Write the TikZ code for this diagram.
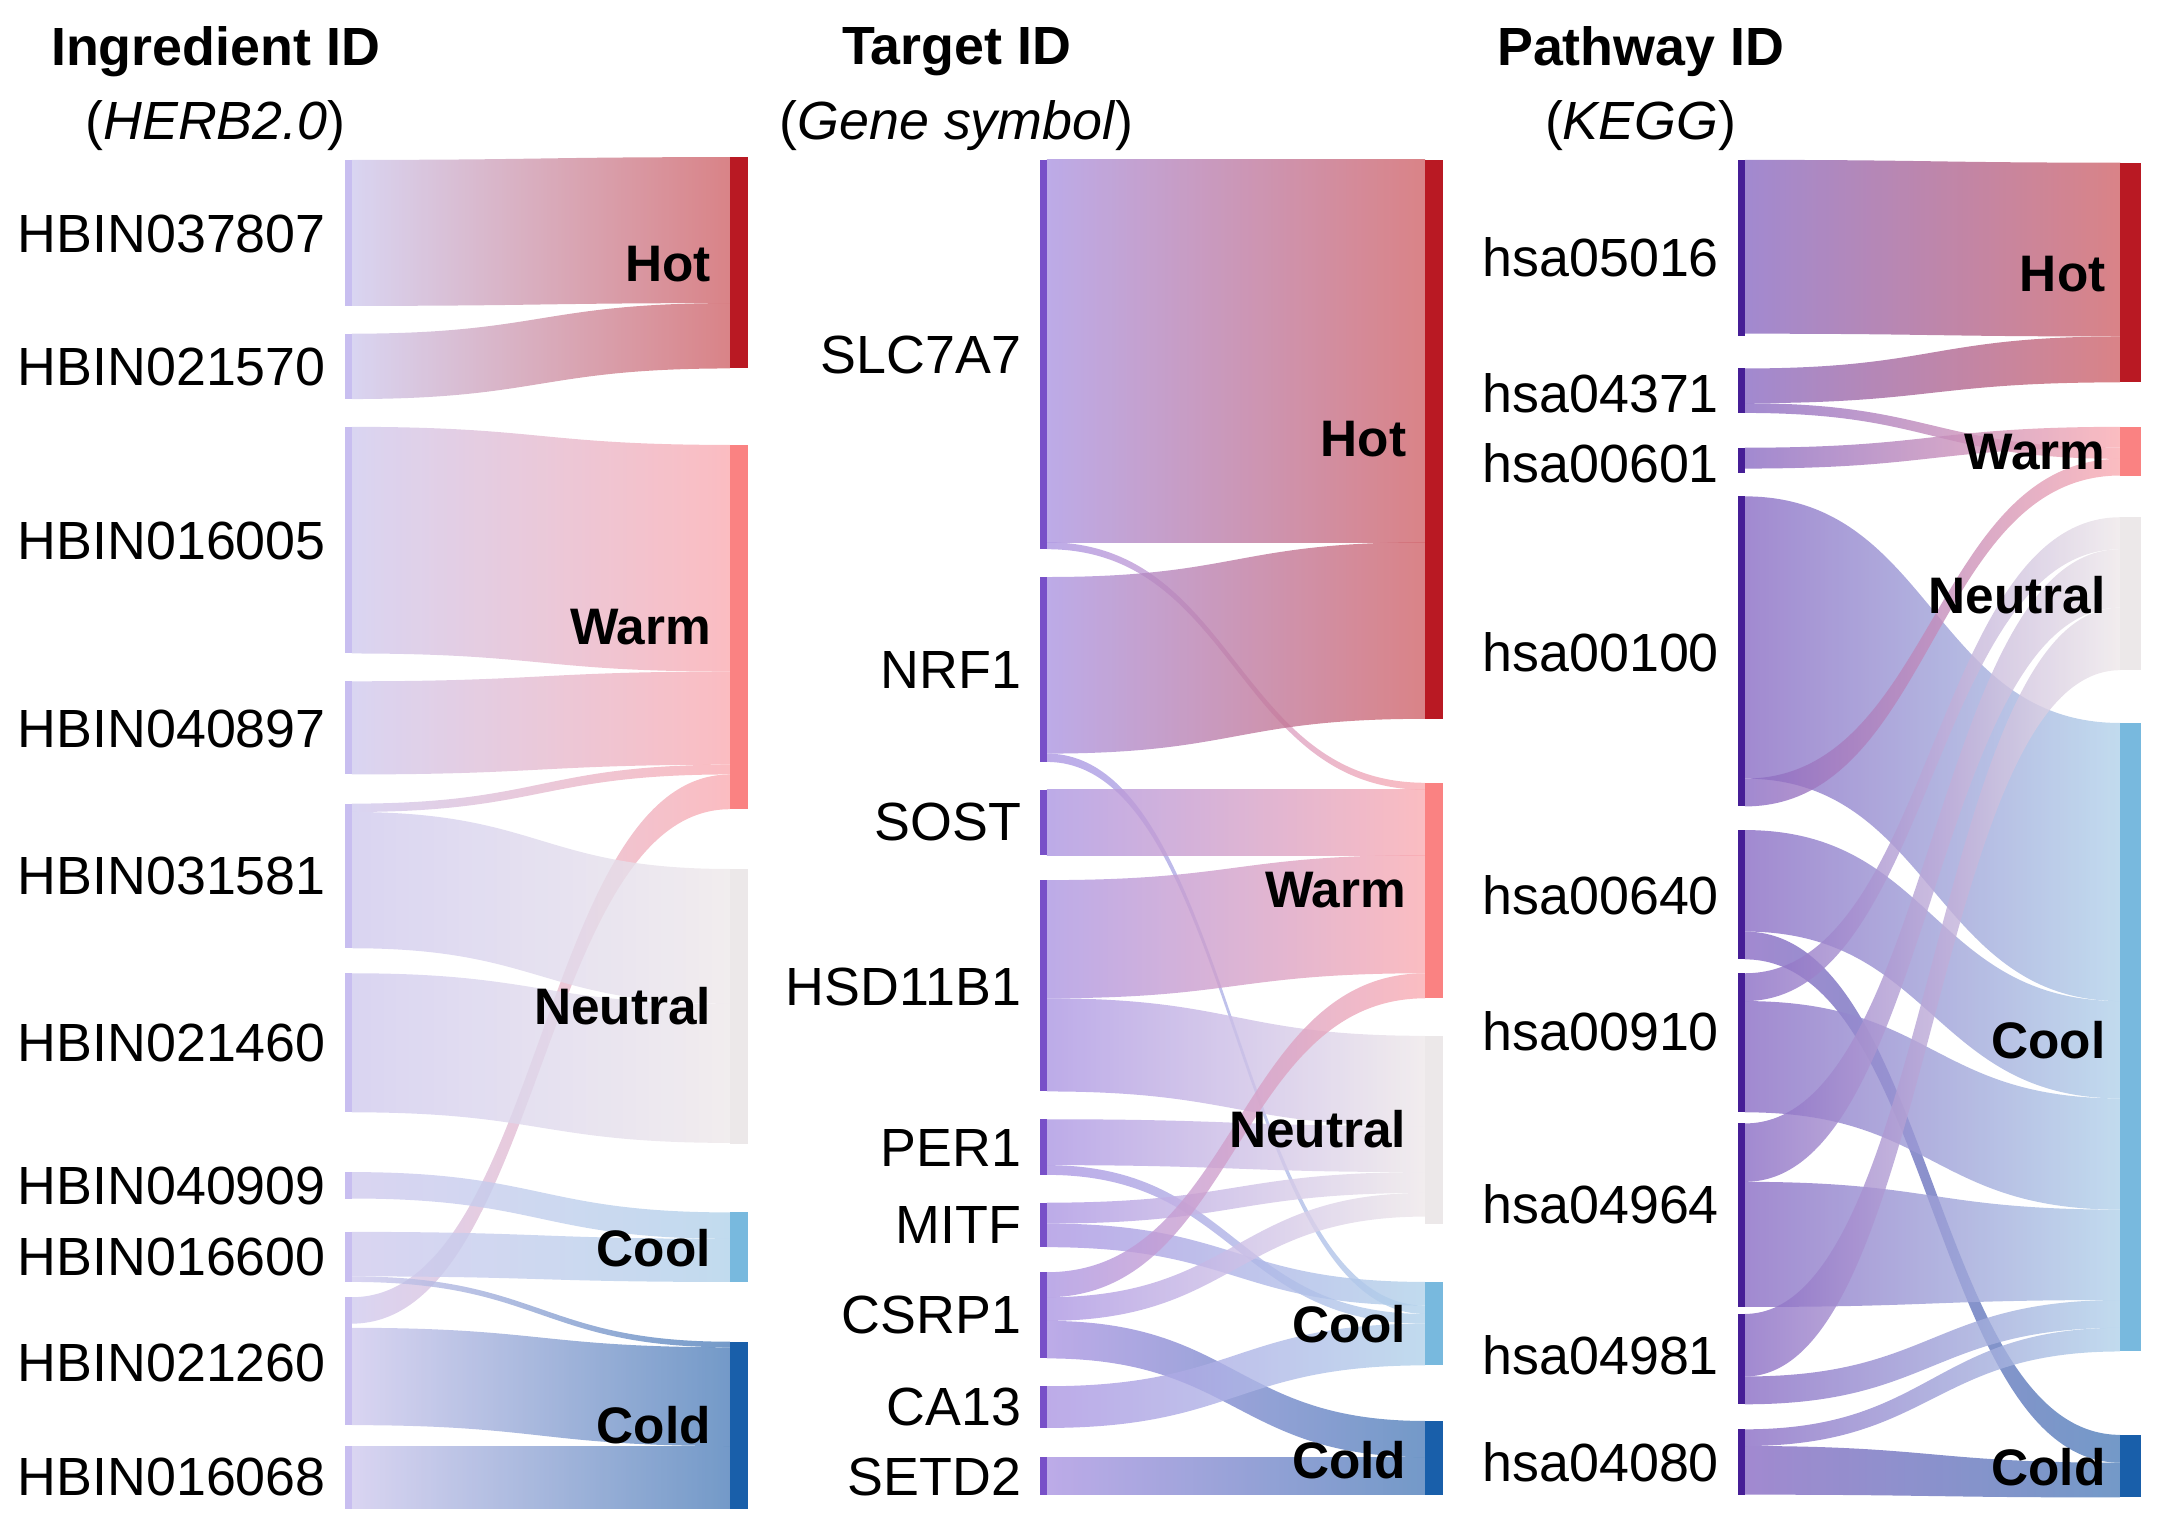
\documentclass[tikz,border=0pt]{standalone}
\usepackage{fontspec}
\setmainfont{Liberation Sans}
\definecolor{lavA}{RGB}{208,202,238}
\definecolor{lavB}{RGB}{172,150,226}
\definecolor{lavC}{RGB}{138,108,196}
\definecolor{barA}{RGB}{200,190,240}
\definecolor{barB}{RGB}{120,80,200}
\definecolor{barC}{RGB}{70,30,150}
\definecolor{hotF}{RGB}{208,100,105}
\definecolor{warmF}{RGB}{250,172,178}
\definecolor{neuF}{RGB}{238,232,234}
\definecolor{coolF}{RGB}{178,210,234}
\definecolor{coldF}{RGB}{80,128,186}
\definecolor{hotC}{RGB}{185,25,35}
\definecolor{warmC}{RGB}{250,130,130}
\definecolor{neuC}{RGB}{236,232,233}
\definecolor{coolC}{RGB}{120,185,222}
\definecolor{coldC}{RGB}{25,95,170}
\newcommand\flw[8]{\path[shade, left color=#7, right color=#8, fill opacity=0.8] (#1,-#2) .. controls ({(#1+#4)/2},-#2) and ({(#1+#4)/2},-#5) .. (#4,-#5) -- (#4,-#6) .. controls ({(#1+#4)/2},-#6) and ({(#1+#4)/2},-#3) .. (#1,-#3) -- cycle;}
\newcommand\sbar[5]{\fill[#5] (#1,-#2) rectangle (#3,-#4);}
\begin{document}
\begin{tikzpicture}[x=0.01cm,y=0.01cm,
  lab/.style={anchor=east,font=\fontsize{11}{13}\selectfont,inner sep=0pt},
  tgt/.style={anchor=east,font=\bfseries\fontsize{10.5}{12}\selectfont,inner sep=0pt},
  hdr/.style={font=\bfseries\fontsize{11}{13}\selectfont,inner sep=0pt},
  sub/.style={font=\fontsize{11}{13}\selectfont,inner sep=0pt}]
\useasboundingbox (0,0) rectangle (1560,-1097);
% ---------- panel 1 ----------
\flw{253}{115}{220}{525}{113}{218}{lavA}{hotF}
\flw{253}{240}{287}{525}{218}{265}{lavA}{hotF}
\flw{253}{307}{470}{525}{320}{483}{lavA}{warmF}
\flw{253}{490}{557}{525}{483}{550}{lavA}{warmF}
\flw{253}{578}{584}{525}{550}{557}{lavA}{warmF}
\flw{253}{933}{952}{525}{557}{582}{lavA}{warmF}
\flw{253}{584}{682}{525}{625}{722}{lavA}{neuF}
\flw{253}{700}{800}{525}{722}{822}{lavA}{neuF}
\flw{253}{843}{862}{525}{872}{891}{lavA}{coolF}
\flw{253}{886}{918}{525}{891}{922}{lavA}{coolF}
\flw{253}{918}{922}{525}{965}{969}{lavA}{coldF}
\flw{253}{955}{1025}{525}{969}{1040}{lavA}{coldF}
\flw{253}{1040}{1085}{525}{1040}{1085}{lavA}{coldF}
\sbar{248}{115}{253}{220}{barA}\sbar{248}{240}{253}{287}{barA}\sbar{248}{307}{253}{470}{barA}
\sbar{248}{490}{253}{557}{barA}\sbar{248}{578}{253}{682}{barA}\sbar{248}{700}{253}{800}{barA}
\sbar{248}{843}{253}{862}{barA}\sbar{248}{886}{253}{922}{barA}\sbar{248}{933}{253}{1025}{barA}
\sbar{248}{1040}{253}{1085}{barA}
\sbar{525}{113}{538}{265}{hotC}\sbar{525}{320}{538}{582}{warmC}\sbar{525}{625}{538}{823}{neuC}
\sbar{525}{872}{538}{922}{coolC}\sbar{525}{965}{538}{1085}{coldC}
\node[hdr] (h1) at (155,-37) {Ingredient ID};
\node[sub] (s1) at (155,-90) {(\textit{HERB2.0})};
\node[lab] (a1) at (235,-168) {HBIN037807};
\node[lab] (a2) at (235,-264) {HBIN021570};
\node[lab] (a3) at (235,-389) {HBIN016005};
\node[lab] (a4) at (235,-524) {HBIN040897};
\node[lab] (a5) at (235,-630) {HBIN031581};
\node[lab] (a6) at (235,-750) {HBIN021460};
\node[lab] (a7) at (235,-853) {HBIN040909};
\node[lab] (a8) at (235,-904) {HBIN016600};
\node[lab] (a9) at (235,-980) {HBIN021260};
\node[lab] (a10) at (235,-1062) {HBIN016068};
\node[tgt] (t1) at (512,-190) {Hot};
\node[tgt] (t2) at (512,-451) {Warm};
\node[tgt] (t3) at (512,-724) {Neutral};
\node[tgt] (t4) at (512,-898) {Cool};
\node[tgt] (t5) at (512,-1025) {Cold};
% ---------- panel 2 ----------
\flw{753}{115}{390}{1025}{115}{390}{lavB}{hotF}
\flw{753}{390}{395}{1025}{563}{568}{lavB}{warmF}
\flw{753}{415}{542}{1025}{390}{517}{lavB}{hotF}
\flw{753}{542}{548}{1025}{939}{945}{lavB}{coolF}
\flw{753}{568}{615}{1025}{568}{615}{lavB}{warmF}
\flw{753}{633}{718}{1025}{615}{700}{lavB}{warmF}
\flw{753}{718}{785}{1025}{745}{810}{lavB}{neuF}
\flw{753}{805}{838}{1025}{810}{843}{lavB}{neuF}
\flw{753}{838}{845}{1025}{945}{952}{lavB}{coolF}
\flw{753}{865}{880}{1025}{843}{858}{lavB}{neuF}
\flw{753}{880}{897}{1025}{922}{939}{lavB}{coolF}
\flw{753}{915}{933}{1025}{700}{718}{lavB}{warmF}
\flw{753}{933}{950}{1025}{858}{875}{lavB}{neuF}
\flw{753}{950}{977}{1025}{1022}{1048}{lavB}{coldF}
\flw{753}{997}{1027}{1025}{952}{982}{lavB}{coolF}
\flw{753}{1048}{1075}{1025}{1048}{1075}{lavB}{coldF}
\sbar{748}{115}{753}{395}{barB}\sbar{748}{415}{753}{548}{barB}\sbar{748}{568}{753}{615}{barB}
\sbar{748}{633}{753}{785}{barB}\sbar{748}{805}{753}{845}{barB}\sbar{748}{865}{753}{897}{barB}
\sbar{748}{915}{753}{977}{barB}\sbar{748}{997}{753}{1027}{barB}\sbar{748}{1048}{753}{1075}{barB}
\sbar{1025}{115}{1038}{517}{hotC}\sbar{1025}{563}{1038}{718}{warmC}\sbar{1025}{745}{1038}{880}{neuC}
\sbar{1025}{922}{1038}{982}{coolC}\sbar{1025}{1022}{1038}{1075}{coldC}
\node[hdr] (h2) at (688,-37) {Target ID};
\node[sub] (s2) at (688,-90) {(\textit{Gene symbol})};
\node[lab] (b1) at (735,-255) {SLC7A7};
\node[lab] (b2) at (735,-482) {NRF1};
\node[lab] (b3) at (735,-591) {SOST};
\node[lab] (b4) at (735,-710) {HSD11B1};
\node[lab] (b5) at (735,-826) {PER1};
\node[lab] (b6) at (735,-881) {MITF};
\node[lab] (b7) at (735,-946) {CSRP1};
\node[lab] (b8) at (735,-1012) {CA13};
\node[lab] (b9) at (735,-1062) {SETD2};
\node[tgt] (u1) at (1012,-316) {Hot};
\node[tgt] (u2) at (1012,-640) {Warm};
\node[tgt] (u3) at (1012,-812) {Neutral};
\node[tgt] (u4) at (1012,-952) {Cool};
\node[tgt] (u5) at (1012,-1050) {Cold};
% ---------- panel 3 ----------
\flw{1255}{115}{240}{1525}{117}{242}{lavC}{hotF}
\flw{1255}{265}{290}{1525}{242}{275}{lavC}{hotF}
\flw{1255}{322}{337}{1525}{307}{322}{lavC}{warmF}
\flw{1255}{290}{297}{1525}{322}{330}{lavC}{warmF}
\flw{1255}{357}{560}{1525}{520}{720}{lavC}{coolF}
\flw{1255}{560}{580}{1525}{330}{342}{lavC}{warmF}
\flw{1255}{597}{670}{1525}{720}{790}{lavC}{coolF}
\flw{1255}{670}{690}{1525}{1032}{1052}{lavC}{coldF}
\flw{1255}{700}{720}{1525}{372}{395}{lavC}{neuF}
\flw{1255}{720}{800}{1525}{790}{870}{lavC}{coolF}
\flw{1255}{808}{850}{1525}{395}{437}{lavC}{neuF}
\flw{1255}{850}{940}{1525}{870}{935}{lavC}{coolF}
\flw{1255}{945}{990}{1525}{437}{482}{lavC}{neuF}
\flw{1255}{990}{1010}{1525}{935}{955}{lavC}{coolF}
\flw{1255}{1028}{1040}{1525}{955}{972}{lavC}{coolF}
\flw{1255}{1040}{1075}{1525}{1052}{1077}{lavC}{coldF}
\sbar{1250}{115}{1255}{242}{barC}\sbar{1250}{265}{1255}{297}{barC}\sbar{1250}{322}{1255}{340}{barC}
\sbar{1250}{357}{1255}{580}{barC}\sbar{1250}{597}{1255}{690}{barC}\sbar{1250}{700}{1255}{800}{barC}
\sbar{1250}{808}{1255}{940}{barC}\sbar{1250}{945}{1255}{1010}{barC}\sbar{1250}{1028}{1255}{1075}{barC}
\sbar{1525}{117}{1540}{275}{hotC}\sbar{1525}{307}{1540}{342}{warmC}\sbar{1525}{372}{1540}{482}{neuC}
\sbar{1525}{520}{1540}{972}{coolC}\sbar{1525}{1032}{1540}{1077}{coldC}
\node[hdr] (h3) at (1180,-37) {Pathway ID};
\node[sub] (s3) at (1180,-90) {(\textit{KEGG})};
\node[lab] (c1) at (1237,-185) {hsa05016};
\node[lab] (c2) at (1237,-283) {hsa04371};
\node[lab] (c3) at (1237,-333) {hsa00601};
\node[lab] (c4) at (1237,-469) {hsa00100};
\node[lab] (c5) at (1237,-644) {hsa00640};
\node[lab] (c6) at (1237,-742) {hsa00910};
\node[lab] (c7) at (1237,-866) {hsa04964};
\node[lab] (c8) at (1237,-975) {hsa04981};
\node[lab] (c9) at (1237,-1052) {hsa04080};
\node[tgt] (v1) at (1515,-197) {Hot};
\node[tgt] (v2) at (1515,-325) {Warm};
\node[tgt] (v3) at (1515,-428) {Neutral};
\node[tgt] (v4) at (1515,-748) {Cool};
\node[tgt] (v5) at (1515,-1055) {Cold};
\end{tikzpicture}
\end{document}
